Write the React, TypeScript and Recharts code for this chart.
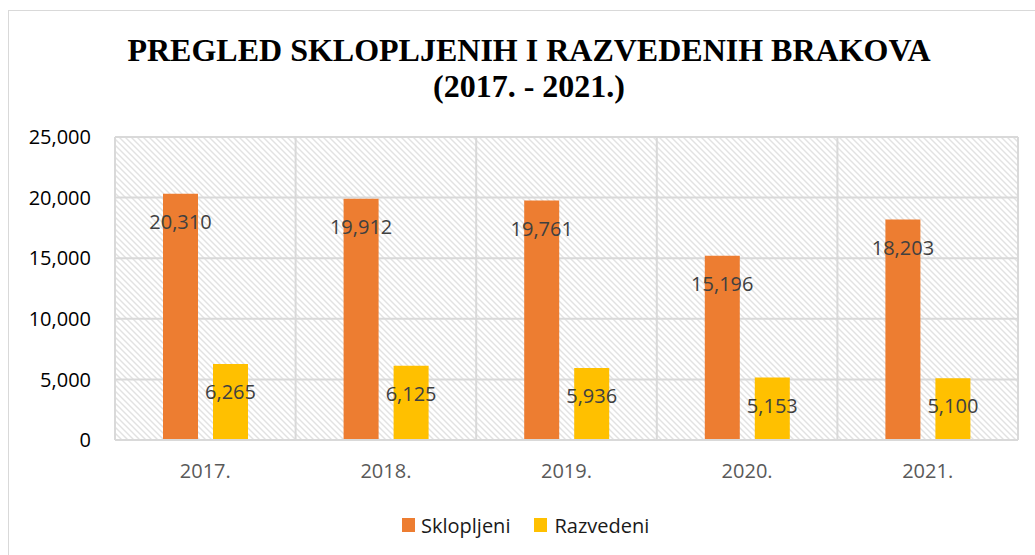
import React from 'react';
import { BarChart, Bar, XAxis, YAxis, CartesianGrid, Legend, LabelList } from 'recharts';

const categories = ['2017.', '2018.', '2019.', '2020.', '2021.'];
const sklopljeni = [20310, 19912, 19761, 15196, 18203];
const razvedeni = [6265, 6125, 5936, 5153, 5100];
const yTicks = [0, 5000, 10000, 15000, 20000, 25000];
const seriesNames = ['Sklopljeni', 'Razvedeni'];
const seriesColors = ['#ED7D31', '#FFC000'];
const titleLines = ['PREGLED SKLOPLJENIH I RAZVEDENIH BRAKOVA', '(2017. - 2021.)'];

const data = categories.map((c, i) => ({ year: c, s: sklopljeni[i], r: razvedeni[i] }));
const fmt = (v: any) => Number(v).toLocaleString('en-US');
const FONT = "'Open Sans', 'Noto Sans', sans-serif";

const LegendContent = (props: any) => {
  const payload = [...(props.payload || [])].sort(
    (a: any, b: any) => seriesNames.indexOf(a.value) - seriesNames.indexOf(b.value)
  );
  return (
    <div style={{ display: 'flex', alignItems: 'center', height: 24, fontFamily: FONT, fontSize: 20, color: '#1a1a1a', whiteSpace: 'nowrap' }}>
      {payload.map((p: any, i: number) => (
        <div key={i} style={{ display: 'flex', alignItems: 'center', marginLeft: i === 0 ? 0 : 24 }}>
          <div style={{ width: 13, height: 14, background: p.color, marginRight: i === 0 ? 6 : 7 }} />
          <span>{p.value}</span>
        </div>
      ))}
    </div>
  );
};

export default function App() {
  return (
    <div style={{ position: 'absolute', left: 0, top: 0, width: 1035, height: 555, overflow: 'hidden', background: '#fff' }}>
      <div style={{ position: 'absolute', left: 8, top: 10, width: 1100, height: 600, border: '1.5px solid #d9d9d9', boxSizing: 'border-box' }} />
      <div style={{ position: 'absolute', left: 29, top: 32, width: 1000, textAlign: 'center', fontFamily: "'Liberation Serif', 'Times New Roman', serif", fontWeight: 'bold', fontSize: 32, lineHeight: '36px', color: '#000', whiteSpace: 'nowrap' }}>
        <div>{titleLines[0]}</div>
        <div>{titleLines[1]}</div>
      </div>
      <div style={{ position: 'absolute', left: 0, top: 0 }}>
        <BarChart
          width={1035}
          height={555}
          data={data}
          margin={{ top: 137, right: 17, bottom: 18, left: 0 }}
          barSize={35}
          barGap={15}
        >
          <defs>
            <pattern id="hatch" width="6" height="6" patternUnits="userSpaceOnUse">
              <rect width="6" height="6" fill="#ffffff" />
              <path d="M0,0 L6,6 M-1,5 L1,7 M5,-1 L7,1" stroke="#e2e2e2" strokeWidth="1.4" />
            </pattern>
          </defs>
          <CartesianGrid
            fill="url(#hatch)"
            fillOpacity={1}
            stroke="#d9d9d9"
            strokeWidth={2}
            verticalCoordinatesGenerator={({ offset }: any) =>
              categories.map((_, i) => offset.left + (i * offset.width) / categories.length).concat([offset.left + offset.width])
            }
          />
          <XAxis
            dataKey="year"
            height={73}
            tickSize={0}
            tickMargin={24}
            axisLine={{ stroke: '#d9d9d9', strokeWidth: 2 }}
            tickLine={false}
            tick={{ fill: '#595959', fontSize: 20, fontFamily: FONT }}
          />
          <YAxis
            width={115}
            domain={[0, 25000]}
            ticks={yTicks}
            tickFormatter={fmt}
            tickSize={0}
            tickMargin={24}
            axisLine={false}
            tickLine={false}
            tick={{ fill: '#000', fontSize: 20, fontFamily: FONT }}
          />
          <Legend
            verticalAlign="bottom"
            content={<LegendContent />}
            wrapperStyle={{ left: 402, width: 'auto' }}
          />
          <Bar dataKey="s" name={seriesNames[0]} fill={seriesColors[0]} isAnimationActive={false}>
            <LabelList dataKey="s" position="insideTop" offset={21} formatter={fmt} fill="#404040" fontSize={20} fontFamily={FONT} />
          </Bar>
          <Bar dataKey="r" name={seriesNames[1]} fill={seriesColors[1]} isAnimationActive={false}>
            <LabelList dataKey="r" position="insideTop" offset={21} formatter={fmt} fill="#404040" fontSize={20} fontFamily={FONT} />
          </Bar>
        </BarChart>
      </div>
    </div>
  );
}
